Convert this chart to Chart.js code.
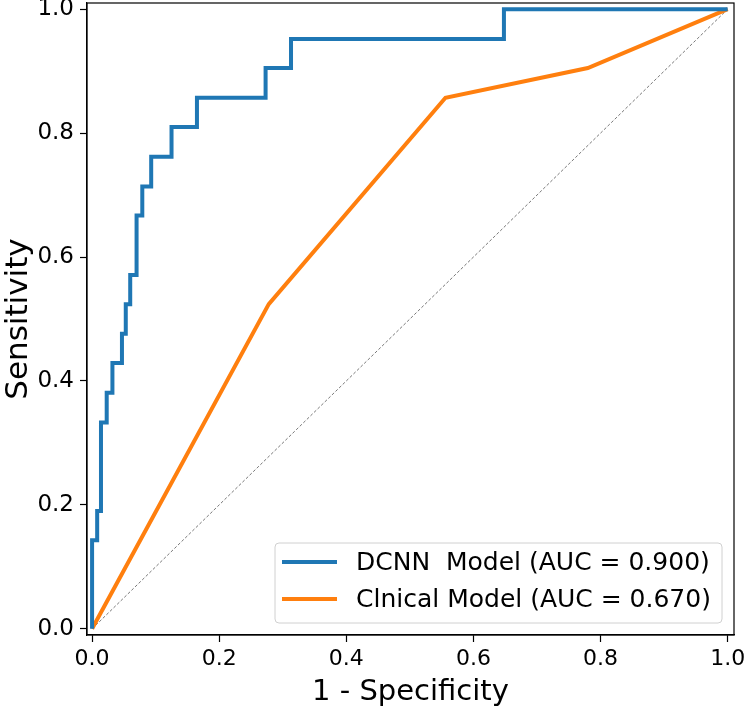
<!DOCTYPE html>
<html>
<head>
<meta charset="utf-8">
<script src="https://cdn.jsdelivr.net/npm/chart.js@4.4.1/dist/chart.umd.min.js"></script>
<style>
  html, body { margin: 0; padding: 0; background: #fff; }
  #wrap { width: 748px; height: 710px; }
</style>
</head>
<body>
<div id="wrap"><canvas id="roc" width="748" height="710"></canvas></div>
<script>
"use strict";

// ROC points (corners of the step curve)
const dcnnFpr = [0, 0, 0.008, 0.008, 0.014, 0.014, 0.023, 0.023, 0.032, 0.032, 0.047, 0.047,
    0.053, 0.053, 0.060, 0.060, 0.070, 0.070, 0.079, 0.079, 0.093, 0.093, 0.125, 0.125,
    0.165, 0.165, 0.273, 0.273, 0.313, 0.313, 0.648, 0.648, 1.0];
const dcnnTpr = [0, 0.143, 0.143, 0.190, 0.190, 0.333, 0.333, 0.381, 0.381, 0.429, 0.429, 0.476,
    0.476, 0.524, 0.524, 0.571, 0.571, 0.667, 0.667, 0.714, 0.714, 0.762, 0.762, 0.810,
    0.810, 0.857, 0.857, 0.905, 0.905, 0.952, 0.952, 1.0, 1.0];

const clinicalFpr = [0, 0.278, 0.556, 0.780, 1.0];
const clinicalTpr = [0, 0.524, 0.857, 0.905, 1.0];

const chanceX = [0, 1];
const chanceY = [0, 1];

const seriesLabels = ["DCNN  Model (AUC = 0.900)", "Clnical Model (AUC = 0.670)"];
const tickValues = [0, 0.2, 0.4, 0.6, 0.8, 1.0];

const FONT = "'DejaVu Sans', sans-serif";

function toPoints(xs, ys) {
    return xs.map((x, i) => ({ x: x, y: ys[i] }));
}

// matplotlib-like frame + legend box in the lower right
const framePlugin = {
    id: "frame",
    afterDatasetsDraw(chart) {
        let ctx = chart.ctx;
        let a = chart.chartArea;
        ctx.save();
        ctx.strokeStyle = "#000";
        ctx.lineWidth = 1.2;
        ctx.strokeRect(a.left, a.top, a.right - a.left, a.bottom - a.top);

        // legend
        let bx = a.right - 12, by = a.bottom - 12;
        let w = 447, h = 80;
        let x0 = bx - w, y0 = by - h;
        ctx.beginPath();
        ctx.roundRect(x0, y0, w, h, 4);
        ctx.fillStyle = "rgba(255,255,255,0.8)";
        ctx.fill();
        ctx.strokeStyle = "#d0d0d0";
        ctx.lineWidth = 1;
        ctx.stroke();

        ctx.font = "25px " + FONT;
        ctx.textBaseline = "middle";
        ctx.textAlign = "left";
        chart.data.datasets.forEach((ds, i) => {
            if (!ds.label) return;
            let yy = y0 + 19 + i * 37;
            ctx.beginPath();
            ctx.moveTo(x0 + 7, yy);
            ctx.lineTo(x0 + 62, yy);
            ctx.strokeStyle = ds.borderColor;
            ctx.lineWidth = ds.borderWidth;
            ctx.stroke();
            ctx.fillStyle = "#000";
            ctx.fillText(ds.label, x0 + 81, yy + 1);
        });
        ctx.restore();
    }
};

function axisOptions(min, max, title, isY) {
    return {
        type: "linear",
        min: min,
        max: max,
        afterBuildTicks: s => { s.ticks = tickValues.map(v => ({ value: v })); },
        afterFit: s => {
            if (isY) {
                s.width = 87;
                s.paddingTop = 0;
                s.paddingBottom = 0;
            } else {
                s.height = 75;
                s.paddingLeft = 0;
                s.paddingRight = 0;
            }
        },
        grid: {
            drawOnChartArea: false,
            drawTicks: true,
            tickLength: 7,
            tickWidth: 1.2,
            tickColor: "#000"
        },
        border: { display: true, color: "#000", width: 1.2 },
        ticks: {
            color: "#000",
            padding: isY ? 6 : 4,
            font: { family: FONT, size: isY ? 23 : 22 },
            callback: v => v.toFixed(1),
            maxRotation: 0
        },
        title: {
            display: true,
            text: title,
            color: "#000",
            font: { family: FONT, size: isY ? 31 : 29 },
            padding: { top: 0, bottom: isY ? 2 : 0 }
        }
    };
}

let ctx = document.getElementById("roc").getContext("2d");
let chart = new Chart(ctx, {
    type: "scatter",
    data: {
        datasets: [
            {
                label: seriesLabels[0],
                data: toPoints(dcnnFpr, dcnnTpr),
                showLine: true,
                borderColor: "#1f77b4",
                borderWidth: 4,
                pointRadius: 0,
                tension: 0
            },
            {
                label: seriesLabels[1],
                data: toPoints(clinicalFpr, clinicalTpr),
                showLine: true,
                borderColor: "#ff7f0e",
                borderWidth: 4,
                pointRadius: 0,
                tension: 0
            },
            {
                label: "",
                data: toPoints(chanceX, chanceY),
                showLine: true,
                borderColor: "#555",
                borderWidth: 0.8,
                borderDash: [3, 2],
                pointRadius: 0,
                order: 3
            }
        ]
    },
    options: {
        responsive: false,
        animation: false,
        devicePixelRatio: 1,
        layout: { padding: { top: 3, right: 14, left: 0, bottom: 0 } },
        plugins: {
            legend: { display: false },
            tooltip: { enabled: false }
        },
        scales: {
            x: axisOptions(-0.008, 1.01, "1 - Specificity", false),
            y: axisOptions(-0.01, 1.01, "Sensitivity", true)
        }
    },
    plugins: [framePlugin]
});
</script>
</body>
</html>
